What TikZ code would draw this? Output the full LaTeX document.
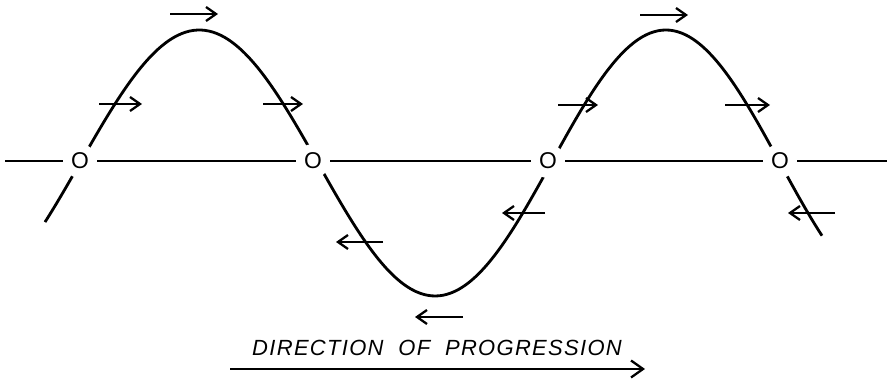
\documentclass[tikz,border=0pt]{standalone}
\usepackage{fontspec}
\setmainfont{Liberation Sans}
\newfontfamily\progfont[LetterSpace=6]{Liberation Sans}
\usepackage{tikz}
\usetikzlibrary{arrows.meta}

\tikzset{
  onda/.style={line width=1.6pt},
  eje/.style={line width=1pt},
  flecha/.style={line width=1.3pt, -{Straight Barb[length=2mm,width=2.8mm]}},
  flechagrande/.style={line width=1.3pt, -{Straight Barb[length=2.4mm,width=3.4mm]}},
  cero/.style={circle, fill=white, inner sep=0pt, minimum size=0.68cm, font=\fontsize{13}{15}\selectfont},
}

\begin{document}
\begin{tikzpicture}[x=0.02cm, y=0.02cm]
\useasboundingbox (0,0) rectangle (893,381);

% Onda
\draw[onda] plot[domain=45:822, samples=200, smooth] (\x,{218+133*sin((\x-80)*0.77143 - 4*sin((\x-80)*0.257))});

% Ceros sobre el eje
\node[cero] (z1) at (80,220) {O};
\node[cero] (z2) at (313,220) {O};
\node[cero] (z3) at (548,220) {O};
\node[cero] (z4) at (780,220) {O};

% Eje
\coordinate (ejeI) at (5,220);
\coordinate (ejeD) at (887,220);
\draw[eje] (ejeI) -- (z1) -- (z2) -- (z3) -- (z4) -- (ejeD);

% Flechas pequenas
\foreach \xa/\xb/\y in {170/218/367, 99/142/277, 263/303/277, 383/336/139,
                        463/415/64, 545/502/168, 558/598/276, 640/688/366,
                        725/770/276, 835/788/168}
  \draw[flecha] (\xa,\y) -- (\xb,\y);

% Direccion de progresion
\node (texto) at (437,33) {\progfont\itshape\fontsize{12.5}{14}\selectfont DIRECTION\ \ OF\ \ PROGRESSION};
\coordinate (dirI) at (230,12);
\coordinate (dirF) at (645,12);
\draw[flechagrande] (dirI) -- (dirF);

\end{tikzpicture}
\end{document}
